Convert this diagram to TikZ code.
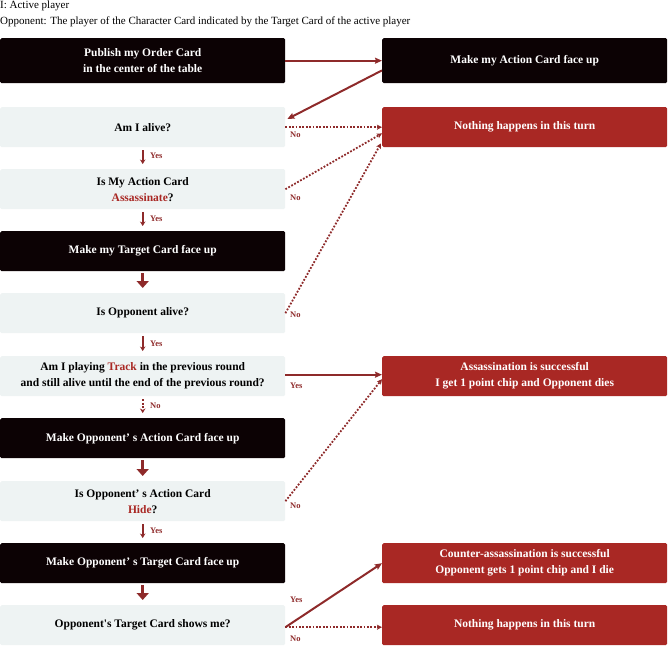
\documentclass[tikz,border=0pt]{standalone}
\usepackage{fontspec}
\setmainfont{Liberation Serif}
\usetikzlibrary{arrows.meta,calc}
\definecolor{boxblack}{HTML}{0C0204}
\definecolor{boxlight}{HTML}{EEF3F3}
\definecolor{boxred}{HTML}{A92824}
\definecolor{arrred}{HTML}{8E2A2A}
\definecolor{hlred}{HTML}{A92824}
\begin{document}
\begin{tikzpicture}[x=1pt,y=-1pt,
  box/.style={rectangle, rounded corners=1.5pt, minimum width=285pt, minimum height=40pt, inner sep=0pt, align=center, anchor=north west, font=\bfseries\fontsize{11.5}{16}\selectfont},
  darkbox/.style={box, fill=boxblack, text=white},
  lightbox/.style={box, fill=boxlight, text=black},
  redbox/.style={box, fill=boxred, text=white},
  solidarr/.style={draw=arrred, line width=2pt, -{Stealth[length=7pt,width=6pt,inset=1pt]}},
  dotarr/.style={draw=arrred, line width=1.8pt, dash pattern=on 1.8pt off 1.6pt, -{Stealth[length=5pt,width=5pt,inset=1pt]}},
  thinarr/.style={draw=arrred, line width=1.8pt, -{Stealth[length=4.5pt,width=5.5pt]}, shorten <=3pt, shorten >=5pt},
  thinarrdot/.style={draw=arrred, line width=1.8pt, dash pattern=on 1.8pt off 1.6pt, -{Stealth[length=4.5pt,width=5.5pt]}, shorten <=3pt, shorten >=5pt},
  thickarr/.style={draw=arrred, line width=2.8pt, -{Triangle[length=7pt,width=12pt]}, shorten <=2pt, shorten >=5pt},
  lbl/.style={text=arrred, font=\bfseries\fontsize{8.5}{10}\selectfont, inner sep=0pt, anchor=west},
  hdr/.style={font=\fontsize{11}{13}\selectfont, inner sep=0pt, anchor=west}
]
\useasboundingbox (0,0) rectangle (668,645);

\node[hdr] (h1) at (0,6) {I: Active player};
\node[hdr] (h2) at (0,22) {Opponent: The player of the Character Card indicated by the Target Card of the active player};

% left column
\node[darkbox, minimum height=45pt] (q1) at (0,38) {Publish my Order Card\\in the center of the table};
\node[lightbox] (q2) at (0,107) {Am I alive?};
\node[lightbox] (q3) at (0,169) {Is My Action Card\\\textcolor{hlred}{Assassinate}?};
\node[darkbox] (q4) at (0,231) {Make my Target Card face up};
\node[lightbox] (q5) at (0,293) {Is Opponent alive?};
\node[lightbox] (q6) at (0,356) {Am I playing \textcolor{hlred}{Track} in the previous round\\and still alive until the end of the previous round?};
\node[darkbox] (q7) at (0,418) {Make Opponent’ s Action Card face up};
\node[lightbox] (q8) at (0,481) {Is Opponent’ s Action Card\\\textcolor{hlred}{Hide}?};
\node[darkbox] (q9) at (0,543) {Make Opponent’ s Target Card face up};
\node[lightbox] (q10) at (0,605) {Opponent\textquotesingle s Target Card shows me?};

% right column
\node[darkbox, minimum height=45pt] (r1) at (382,38) {Make my Action Card face up};
\node[redbox] (r2) at (382,107) {Nothing happens in this turn};
\node[redbox] (r3) at (382,356) {Assassination is successful\\I get 1 point chip and Opponent dies};
\node[redbox] (r4) at (382,543) {Counter-assassination is successful\\Opponent gets 1 point chip and I die};
\node[redbox] (r5) at (382,605) {Nothing happens in this turn};

% horizontal / diagonal connectors
\draw[solidarr] (q1.east) -- (r1.west);
\draw[solidarr] ($(r1.south west)+(0,-13)$) -- ($(q2.north east)+(2,12)$);
\draw[dotarr] (q2.east) -- (q2.east -| r2.west);
\draw[dotarr] (q3.east) -- ($(r2.south west)+(0,-14)$);
\draw[dotarr] (q5.east) -- ($(r2.south west)+(-1,-4)$);
\draw[solidarr] ($(q6.east)+(0,-1.5)$) -- ($(r3.west)+(0,-1.5)$);
\draw[dotarr] (q8.east) -- ($(r3.west)+(0,3)$);
\draw[solidarr] ($(q10.east)+(0,2)$) -- (r4.west);
\draw[dotarr] ($(q10.east)+(0,2)$) -- ($(r5.west)+(0,2)$);

% labels on side connectors
\node[lbl] (n1) at (290,135) {No};
\node[lbl] (n2) at (290,198) {No};
\node[lbl] (n3) at (290,315) {No};
\node[lbl] (y1) at (290,386) {Yes};
\node[lbl] (n4) at (290,506) {No};
\node[lbl] (y2) at (290,600) {Yes};
\node[lbl] (n5) at (290,639) {No};

% vertical connectors
\draw[thinarr] (q2.south) -- (q3.north);
\draw[thinarr] (q3.south) -- (q4.north);
\draw[thickarr] (q4.south) -- (q5.north);
\draw[thinarr] (q5.south) -- (q6.north);
\draw[thinarrdot] (q6.south) -- (q7.north);
\draw[thickarr] (q7.south) -- (q8.north);
\draw[thinarr] (q8.south) -- (q9.north);
\draw[thickarr] (q9.south) -- (q10.north);

\node[lbl] (v1) at (150,156) {Yes};
\node[lbl] (v2) at (150,219) {Yes};
\node[lbl] (v3) at (150,344) {Yes};
\node[lbl] (v4) at (150,406) {No};
\node[lbl] (v5) at (150,531) {Yes};
\end{tikzpicture}
\end{document}
